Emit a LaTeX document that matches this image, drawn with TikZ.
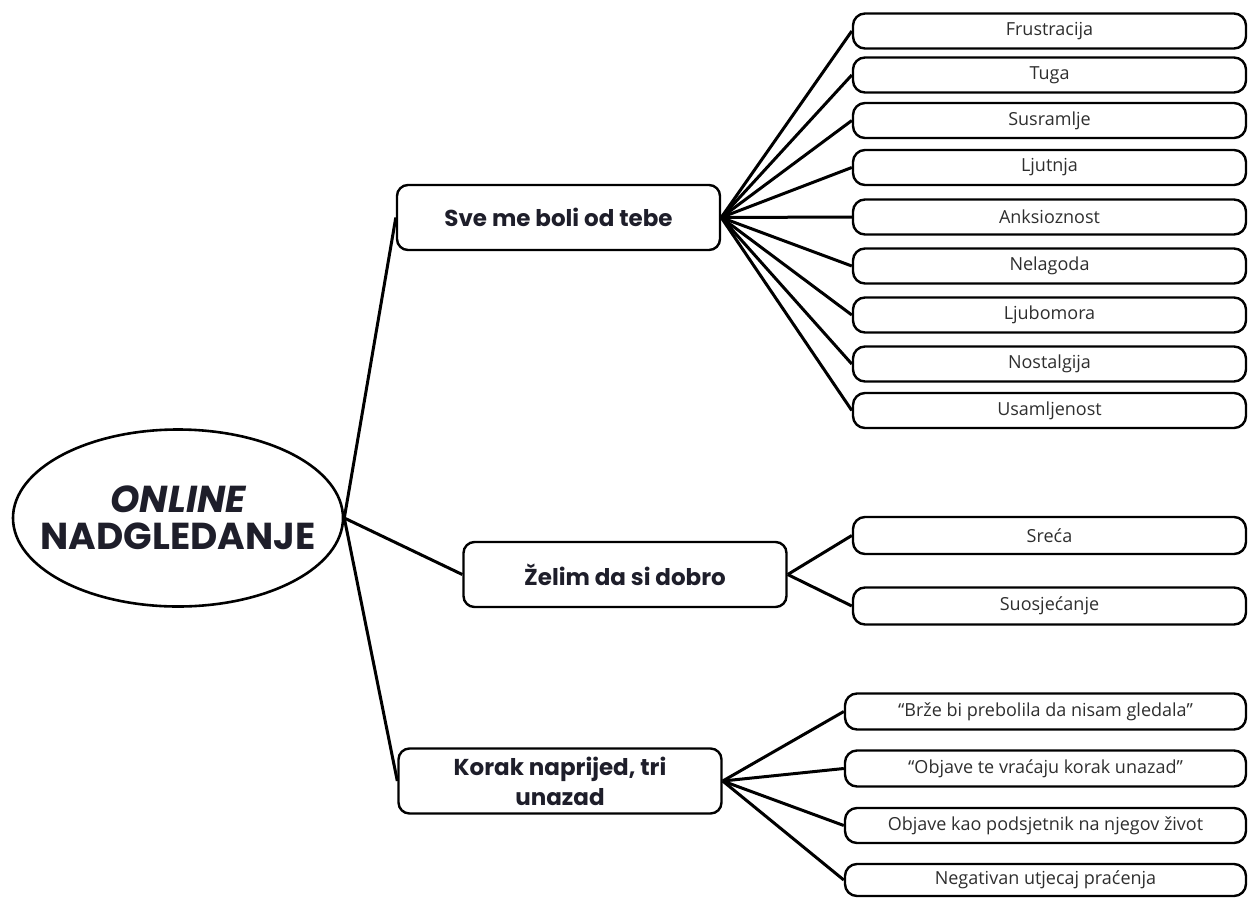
\documentclass[tikz,border=0pt]{standalone}
\usepackage{fontspec}
\setmainfont{Open Sans}
\newfontfamily\headfont{Poppins}
\usetikzlibrary{shapes.geometric}
\definecolor{ink}{HTML}{1E1E2A}
\definecolor{bodytext}{HTML}{2E2E2E}
\begin{document}
\begin{tikzpicture}[x=1pt,y=-1pt,
  conn/.style={line width=3pt, black},
  parentbox/.style={draw, line width=2.4pt, rounded corners=11pt, minimum width=323pt, minimum height=65pt, align=center, font=\headfont\bfseries\fontsize{23}{30}\selectfont, text=ink, inner sep=0pt},
  leaf/.style={draw, line width=2.4pt, rounded corners=12pt, minimum height=35pt, inner sep=0pt, font=\fontsize{18}{20}\selectfont, text=bodytext},
  leafA/.style={leaf, minimum width=393pt},
  leafC/.style={leaf, minimum width=401pt}]
\useasboundingbox (0,0) rectangle (1249,897);

\node[draw, line width=2.6pt, ellipse, minimum width=330pt, minimum height=177pt, inner xsep=-50pt, inner ysep=0pt, align=center, text=ink, font=\headfont\bfseries\fontsize{37.5}{37}\selectfont] (root) at (178,518) {\itshape ONLINE\\NADGLEDANJE};

\node[parentbox] (p1) at (558.5,217.5) {Sve me boli od tebe};
\node[parentbox] (p2) at (625,574.5) {Želim da si dobro};
\node[parentbox] (p3) at (560,781) {Korak naprijed, tri\\unazad};

\node[leafA] (a1) at (1049.5,31) {Frustracija};
\node[leafA] (a2) at (1049.5,75) {Tuga};
\node[leafA] (a3) at (1049.5,120.5) {Susramlje};
\node[leafA] (a4) at (1049.5,167.5) {Ljutnja};
\node[leafA] (a5) at (1049.5,217) {Anksioznost};
\node[leafA] (a6) at (1049.5,266) {Nelagoda};
\node[leafA] (a7) at (1049.5,315) {Ljubomora};
\node[leafA] (a8) at (1049.5,364) {Nostalgija};
\node[leafA] (a9) at (1049.5,410.5) {Usamljenost};

\node[leafA, minimum height=37pt] (b1) at (1049.5,535.5) {Sreća};
\node[leafA, minimum height=37pt] (b2) at (1049.5,606) {Suosjećanje};

\node[leafC, minimum height=36pt] (c1) at (1045.5,711.5) {“Brže bi prebolila da nisam gledala”};
\node[leafC, minimum height=36pt] (c2) at (1045.5,768.5) {“Objave te vraćaju korak unazad”};
\node[leafC, minimum height=35pt] (c3) at (1045.5,825.5) {Objave kao podsjetnik na njegov život};
\node[leafC, minimum height=32pt] (c4) at (1045.5,880) {Negativan utjecaj praćenja};

\draw[conn] (root.east) -- (p1.west);
\draw[conn] (root.east) -- (p2.west);
\draw[conn] (root.east) -- (p3.west);

\foreach \i in {1,...,9} {\draw[conn] (p1.east) -- (a\i.west);}
\foreach \i in {1,2} {\draw[conn] (p2.east) -- (b\i.west);}
\foreach \i in {1,...,4} {\draw[conn] (p3.east) -- (c\i.west);}
\end{tikzpicture}
\end{document}
